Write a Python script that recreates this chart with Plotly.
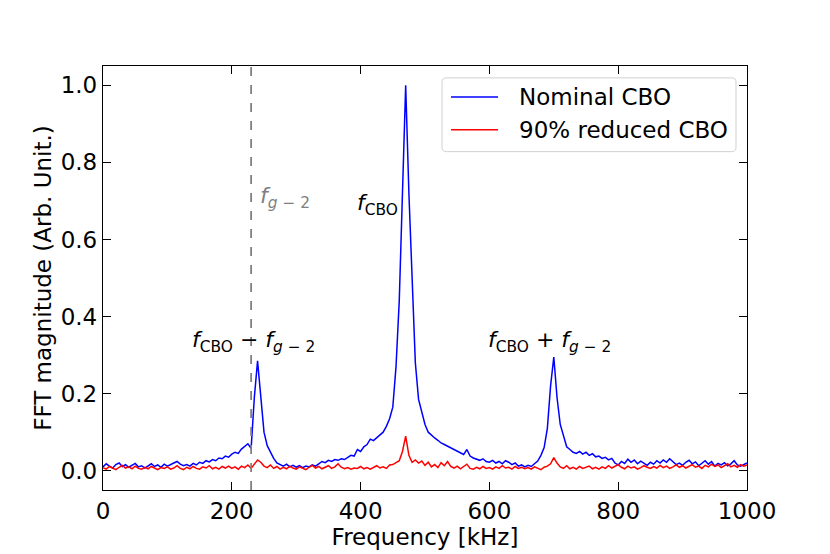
import numpy as np
import plotly.graph_objects as go

# frequency grid [kHz], 5 kHz steps
freq = np.arange(0, 1001, 5)

nominal_cbo = [
    0.010, 0.018, 0.012, 0.007, 0.016, 0.020, 0.011, 0.016, 0.009, 0.014,
    0.019, 0.010, 0.013, 0.007, 0.012, 0.018, 0.011, 0.015, 0.009, 0.017,
    0.012, 0.015, 0.020, 0.024, 0.017, 0.013, 0.016, 0.012, 0.019, 0.015,
    0.022, 0.019, 0.026, 0.023, 0.029, 0.026, 0.033, 0.031, 0.038, 0.035,
    0.043, 0.048, 0.045, 0.056, 0.062, 0.070, 0.058, 0.190, 0.285, 0.200,
    0.100, 0.065, 0.048, 0.032, 0.020, 0.016, 0.012, 0.017, 0.010, 0.014,
    0.009, 0.013, 0.008, 0.012, 0.010, 0.015, 0.012, 0.018, 0.024, 0.021,
    0.027, 0.024, 0.029, 0.027, 0.031, 0.029, 0.034, 0.040, 0.038, 0.055,
    0.050, 0.062, 0.068, 0.082, 0.078, 0.085, 0.092, 0.100, 0.115, 0.135,
    0.165, 0.270, 0.440, 0.700, 1.000, 0.720, 0.500, 0.280, 0.185, 0.150,
    0.120, 0.100, 0.092, 0.085, 0.079, 0.072, 0.068, 0.064, 0.060, 0.055,
    0.050, 0.046, 0.042, 0.055, 0.038, 0.033, 0.030, 0.027, 0.031, 0.024,
    0.022, 0.027, 0.020, 0.024, 0.018, 0.026, 0.022, 0.016, 0.020, 0.012,
    0.015, 0.010, 0.014, 0.011, 0.018, 0.025, 0.040, 0.060, 0.110, 0.220,
    0.295, 0.190, 0.120, 0.090, 0.062, 0.055, 0.048, 0.045, 0.050, 0.043,
    0.048, 0.040, 0.044, 0.036, 0.038, 0.032, 0.035, 0.028, 0.032, 0.020,
    0.015, 0.024, 0.019, 0.030, 0.022, 0.028, 0.018, 0.025, 0.020, 0.014,
    0.022, 0.017, 0.026, 0.020, 0.028, 0.022, 0.031, 0.024, 0.016, 0.020,
    0.014, 0.022, 0.027, 0.018, 0.023, 0.013, 0.020, 0.026, 0.017, 0.024,
    0.012, 0.019, 0.015, 0.021, 0.013, 0.018, 0.026, 0.015, 0.012, 0.017,
    0.020,
]

reduced_cbo = [
    0.008, 0.004, 0.011, 0.006, 0.003, 0.009, 0.014, 0.007, 0.010, 0.005,
    0.012, 0.006, 0.004, 0.009, 0.005, 0.011, 0.007, 0.003, 0.008, 0.006,
    0.010, 0.004, 0.007, 0.013, 0.006, 0.003, 0.009, 0.005, 0.011, 0.006,
    0.004, 0.010, 0.007, 0.013, 0.005, 0.009, 0.004, 0.011, 0.007, 0.012,
    0.006, 0.010, 0.004, 0.012, 0.008, 0.015, 0.006, 0.018, 0.028, 0.022,
    0.012, 0.008, 0.015, 0.006, 0.011, 0.004, 0.009, 0.005, 0.012, 0.007,
    0.004, 0.010, 0.006, 0.003, 0.009, 0.014, 0.007, 0.011, 0.005, 0.009,
    0.013, 0.006, 0.010, 0.018, 0.009, 0.005, 0.008, 0.004, 0.007, 0.006,
    0.011, 0.005, 0.008, 0.004, 0.009, 0.013, 0.007, 0.010, 0.006, 0.015,
    0.016, 0.020, 0.026, 0.050, 0.090, 0.040, 0.022, 0.028, 0.020, 0.025,
    0.014, 0.022, 0.010, 0.016, 0.008, 0.021, 0.013, 0.024, 0.011, 0.007,
    0.012, 0.005, 0.010, 0.017, 0.006, 0.004, 0.009, 0.005, 0.011, 0.006,
    0.008, 0.004, 0.010, 0.006, 0.013, 0.007, 0.009, 0.004, 0.011, 0.006,
    0.009, 0.005, 0.008, 0.004, 0.010, 0.006, 0.003, 0.009, 0.012, 0.018,
    0.034, 0.020, 0.010, 0.006, 0.013, 0.005, 0.009, 0.004, 0.011, 0.006,
    0.008, 0.012, 0.005, 0.009, 0.004, 0.010, 0.006, 0.013, 0.007, 0.011,
    0.016, 0.009, 0.005, 0.012, 0.007, 0.010, 0.004, 0.008, 0.013, 0.009,
    0.006, 0.011, 0.007, 0.014, 0.008, 0.012, 0.006, 0.010, 0.015, 0.009,
    0.013, 0.007, 0.011, 0.016, 0.009, 0.012, 0.006, 0.014, 0.010, 0.017,
    0.011, 0.015, 0.008, 0.013, 0.018, 0.010, 0.014, 0.009, 0.016, 0.012,
    0.015,
]

series_names = ["Nominal CBO", "90% reduced CBO"]
series_colors = ["#0000ff", "#ff0000"]

f_g2 = 230  # kHz, g-2 frequency marker

FONT = "DejaVu Sans"
FS = 23

fig = go.Figure()
for name, ys, col in zip(series_names, [nominal_cbo, reduced_cbo], series_colors):
    fig.add_trace(go.Scatter(x=freq, y=ys, mode="lines", name=name, showlegend=False,
                             line=dict(color=col, width=1.5)))

fig.add_shape(type="line", x0=f_g2, x1=f_g2, y0=0, y1=1, xref="x", yref="paper",
              line=dict(color="#808080", width=1.8, dash="dash"))

# matplotlib-style legend box drawn by hand (paper coords)
bx0, bx1, by0, by1 = 0.5264, 0.9829, 0.798, 0.972
rx, ry = 0.007, 0.010
fig.add_shape(type="path", xref="paper", yref="paper",
              path=(f"M{bx0+rx},{by0} L{bx1-rx},{by0} Q{bx1},{by0} {bx1},{by0+ry} "
                    f"L{bx1},{by1-ry} Q{bx1},{by1} {bx1-rx},{by1} L{bx0+rx},{by1} "
                    f"Q{bx0},{by1} {bx0},{by1-ry} L{bx0},{by0+ry} Q{bx0},{by0} {bx0+rx},{by0} Z"),
              fillcolor="rgba(255,255,255,0.8)", line=dict(color="#d0d0d0", width=1))
for i, (name, col) in enumerate(zip(series_names, series_colors)):
    ly = 0.927 - i * 0.0775
    fig.add_shape(type="line", xref="paper", yref="paper", x0=0.5404, x1=0.6134, y0=ly, y1=ly,
                  line=dict(color=col, width=1.5))
    fig.add_annotation(xref="paper", yref="paper", x=0.6429, y=ly, xanchor="left", yanchor="middle",
                       showarrow=False, text=name, font=dict(family=FONT, size=FS, color="black"))

ann_font = dict(family=FONT, size=22, color="black")
fig.add_annotation(x=241, y=0.71, xanchor="left", showarrow=False,
                   text="<i>f</i><sub><i>g</i> − 2</sub>",
                   font=dict(family=FONT, size=22, color="#808080"))
fig.add_annotation(x=427, y=0.69, showarrow=False,
                   text="<i>f</i><sub>CBO</sub>", font=ann_font)
fig.add_annotation(x=233, y=0.335, showarrow=False,
                   text="<i>f</i><sub>CBO</sub> − <i>f</i><sub><i>g</i> − 2</sub>", font=ann_font)
fig.add_annotation(x=694, y=0.335, showarrow=False,
                   text="<i>f</i><sub>CBO</sub> + <i>f</i><sub><i>g</i> − 2</sub>", font=ann_font)

axis_style = dict(showline=True, linecolor="black", linewidth=1.3, mirror="allticks",
                  ticks="inside", ticklen=8, tickwidth=1, tickcolor="black",
                  showgrid=False, zeroline=False,
                  tickfont=dict(family=FONT, size=FS, color="black"))

fig.update_xaxes(range=[0, 1000], dtick=200,
                 title=dict(text="Frequency [kHz]", font=dict(family=FONT, size=FS), standoff=2),
                 **axis_style)
fig.update_yaxes(range=[-0.05, 1.05], dtick=0.2, tickformat=".1f",
                 title=dict(text="FFT magnitude (Arb. Unit.)", font=dict(family=FONT, size=FS), standoff=2),
                 **axis_style)

# page body adds an 8px offset, so the figure is sized/margined to compensate
fig.update_layout(
    width=822, height=546,
    margin=dict(l=95, r=83, t=58, b=62),
    plot_bgcolor="white", paper_bgcolor="white",
    font=dict(family=FONT, color="black"),
)

fig.write_html("out.html")
